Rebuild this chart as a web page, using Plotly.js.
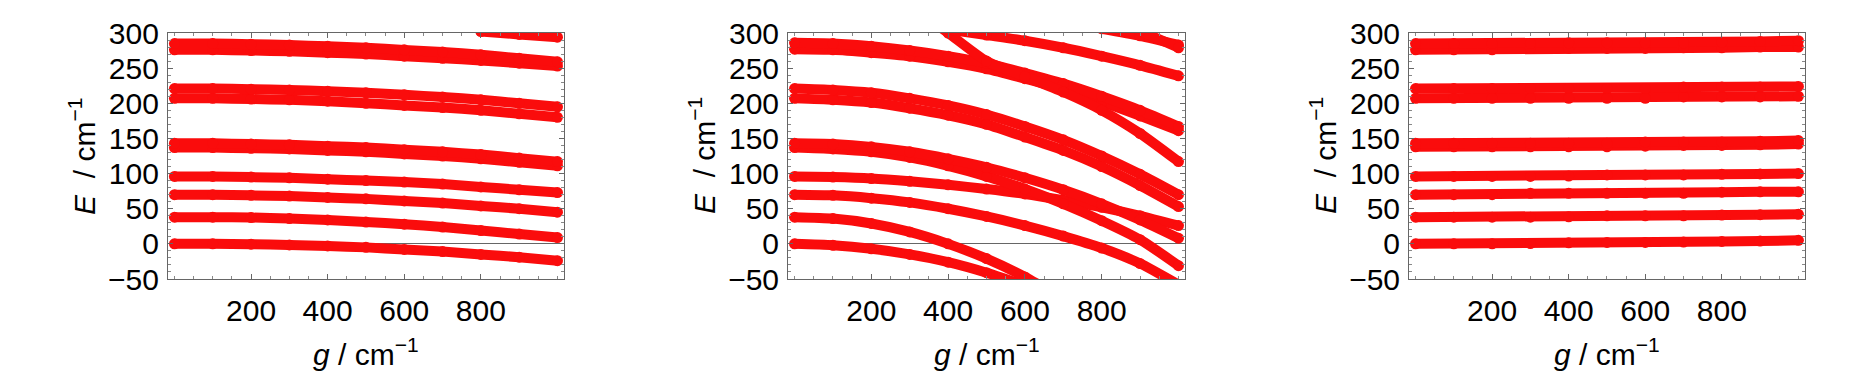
<!DOCTYPE html>
<html>
<head>
<meta charset="utf-8">
<script src="https://cdn.plot.ly/plotly-3.0.1.min.js"></script>
<style>
  html, body { margin: 0; padding: 0; background: #fff; }
  #plotContainer { width: 1870px; height: 386px; }
</style>
</head>
<body>
<div id="plotContainer"></div>
<script>
// coupling strength g (cm^-1), sampled every 100
const gValues = [0, 100, 200, 300, 400, 500, 600, 700, 800, 900, 1000];

// left panel: levels bend down gently
const left0 = [0, 0, -0.5, -1.5, -3, -5, -8, -11, -15, -19, -24];
const left38 = [38, 38, 37.5, 36, 34, 31, 28, 24, 19, 14, 9];
const left70 = [70, 70, 69, 68, 66, 64, 61, 58, 54, 50, 45];
const left96 = [96, 96, 95, 94, 92, 90, 88, 85, 81, 77, 73];
const left137 = [137, 137, 136, 135, 133, 131, 128, 125, 121, 116, 111];
const left143 = [143, 143, 142, 141, 139, 137, 134, 131, 127, 122, 117];
const left207 = [207, 207, 206, 205, 203, 200, 197, 194, 190, 185, 180];
const left221 = [221, 221, 220, 219, 217, 215, 212, 209, 205, 200, 195];
const left277 = [276, 276, 275, 274, 272, 270, 267, 264, 261, 257, 253];
const left286 = [285, 285, 284, 283, 281, 279, 276, 273, 269, 264, 259];
const leftTop = [null, null, null, null, null, null, null, null, 302, 298, 294];

// middle panel: strong downward shifts, levels cross
const mid0 = [0, -2, -7, -15, -26, -41, -59, null, null, null, null];
const mid38 = [38, 36, 29, 17, 0, -21, -47, -78, null, null, null];
const mid70 = [70, 69, 65, 59, 50, 39, 26, 11, -6, -28, -58];
const mid96 = [96, 95, 93, 89, 84, 78, 71, 62, 52, 40, 26];
const mid137 = [137, 135, 131, 123, 111, 96, 78, 57, 33, 6, -31];
const mid143 = [143, 142, 138, 131, 121, 109, 94, 77, 57, 34, 8];
const mid207 = [207, 205, 201, 193, 183, 170, 152, 133, 110, 83, 53];
const mid221 = [221, 219, 215, 207, 197, 184, 167, 148, 125, 99, 70];
const mid277 = [277, 276, 272, 267, 259, 249, 235, 220, 202, 182, 161];
const mid286 = [286, 285, 281, 275, 267, 257, 243, 228, 210, 190, 167];
const midIn400 = [null, null, null, 340, 300, 260, 238, 216, 190, 157, 117];
const midIn470 = [null, null, null, null, 305, 297, 289, 279, 267, 254, 239];
const midIn860 = [null, null, null, null, null, null, null, null, 306, 296, 283];
const midIn910 = [null, null, null, null, null, null, null, null, null, 303, 279];

// right panel: almost flat, small upward steps
const right0 = [0, 0, 0, 0.5, 1.5, 2, 2, 2.5, 3.5, 4, 5];
const right38 = [38, 38, 38, 38, 38.5, 40, 40, 40, 41, 41.5, 42];
const right70 = [70, 70, 70, 72, 72, 72, 72, 72, 73.5, 74, 74];
const right96 = [96, 96, 96, 96, 96.5, 98, 98, 98, 99, 99.5, 100];
const right137 = [138, 138, 138, 138, 138, 138, 139, 140, 140, 141, 142];
const right143 = [143, 143, 143, 143, 143, 143, 145, 145, 145, 146, 147];
const right207 = [207, 207, 207, 207, 207, 207, 207, 209, 209, 209, 210];
const right221 = [221, 221, 221, 221, 221, 221, 221, 223, 223, 223, 224];
const right277 = [276, 276, 276, 278, 278, 278, 278, 279, 279, 280, 280];
const right286 = [285, 285, 285, 285, 286, 286, 286, 286, 287, 288, 289];

const xTicks = [200, 400, 600, 800];

const panels = [
    { series: [left0, left38, left70, left96, left137, left143, left207, left221, left277, left286, leftTop], domain: [0.0898, 0.3016], shape: "spline" },
    { series: [mid0, mid38, mid70, mid96, mid137, mid143, mid207, mid221, mid277, mid286, midIn400, midIn470, midIn860, midIn910], domain: [0.4214, 0.6337], shape: "spline" },
    { series: [right0, right38, right70, right96, right137, right143, right207, right221, right277, right286], domain: [0.7535, 0.9652], shape: "linear" },
];

const red = "rgb(250,12,12)";
const fontFamily = "Liberation Sans, Arial, sans-serif";
const fontSize = 30;

function makeTraces() {
    const traces = [];
    panels.forEach((panel, i) => {
        const suffix = i === 0 ? "" : String(i + 1);
        panel.series.forEach(values => {
            traces.push({
                x: gValues,
                y: values,
                type: "scatter",
                mode: "lines+markers",
                line: { color: red, width: 10, shape: panel.shape, smoothing: 0.6 },
                marker: { color: red, size: 11 },
                connectgaps: false,
                xaxis: "x" + suffix,
                yaxis: "y" + suffix,
                hoverinfo: "skip",
            });
        });
    });
    return traces;
}

function makeLayout() {
    const layout = {
        width: 1870,
        height: 386,
        margin: { l: 0, r: 0, t: 0, b: 0 },
        paper_bgcolor: "#fff",
        plot_bgcolor: "#fff",
        showlegend: false,
        font: { family: fontFamily, size: fontSize, color: "#000" },
        annotations: [],
    };
    panels.forEach((panel, i) => {
        const suffix = i === 0 ? "" : String(i + 1);
        layout["xaxis" + suffix] = {
            domain: panel.domain,
            anchor: "y" + suffix,
            range: [-17, 1017],
            tickmode: "array",
            tickvals: xTicks,
            ticks: "inside",
            ticklen: 5,
            tickcolor: "#666",
            tickfont: { family: fontFamily, size: fontSize, color: "#000" },
            showline: true,
            linecolor: "#666",
            linewidth: 1,
            mirror: "allticks",
            showgrid: false,
            zeroline: false,
            ticklabelstandoff: 5,
            minor: { tickmode: "linear", tick0: 0, dtick: 50, ticks: "inside", ticklen: 3, tickcolor: "#888" },
        };
        layout["yaxis" + suffix] = {
            domain: [0.2772, 0.9145],
            anchor: "x" + suffix,
            range: [-50, 300],
            tickmode: "linear",
            tick0: -50,
            dtick: 50,
            ticks: "inside",
            ticklen: 5,
            tickcolor: "#666",
            tickfont: { family: fontFamily, size: fontSize, color: "#000" },
            showline: true,
            linecolor: "#666",
            linewidth: 1,
            mirror: "allticks",
            showgrid: false,
            zeroline: true,
            zerolinecolor: "#666",
            zerolinewidth: 1,
            ticklabelstandoff: 2,
            minor: { tickmode: "linear", tick0: 0, dtick: 10, ticks: "inside", ticklen: 3, tickcolor: "#888" },
        };
        const left = panel.domain[0];
        const mid = (panel.domain[0] + panel.domain[1]) / 2;
        layout.annotations.push({
            xref: "paper", yref: "paper",
            x: mid, y: 1 - 352 / 386,
            text: "<i>g</i> / cm<sup>−1</sup>",
            showarrow: false,
            xanchor: "center", yanchor: "middle",
            font: { family: fontFamily, size: fontSize, color: "#000" },
        });
        layout.annotations.push({
            xref: "paper", yref: "paper",
            x: left - 86 / 1870, y: 1 - 156 / 386,
            text: "<i>E</i>  / cm<sup>−1</sup>",
            textangle: -90,
            showarrow: false,
            xanchor: "center", yanchor: "middle",
            font: { family: fontFamily, size: fontSize, color: "#000" },
        });
    });
    return layout;
}

Plotly.newPlot("plotContainer", makeTraces(), makeLayout(), { staticPlot: true });
</script>
</body>
</html>
